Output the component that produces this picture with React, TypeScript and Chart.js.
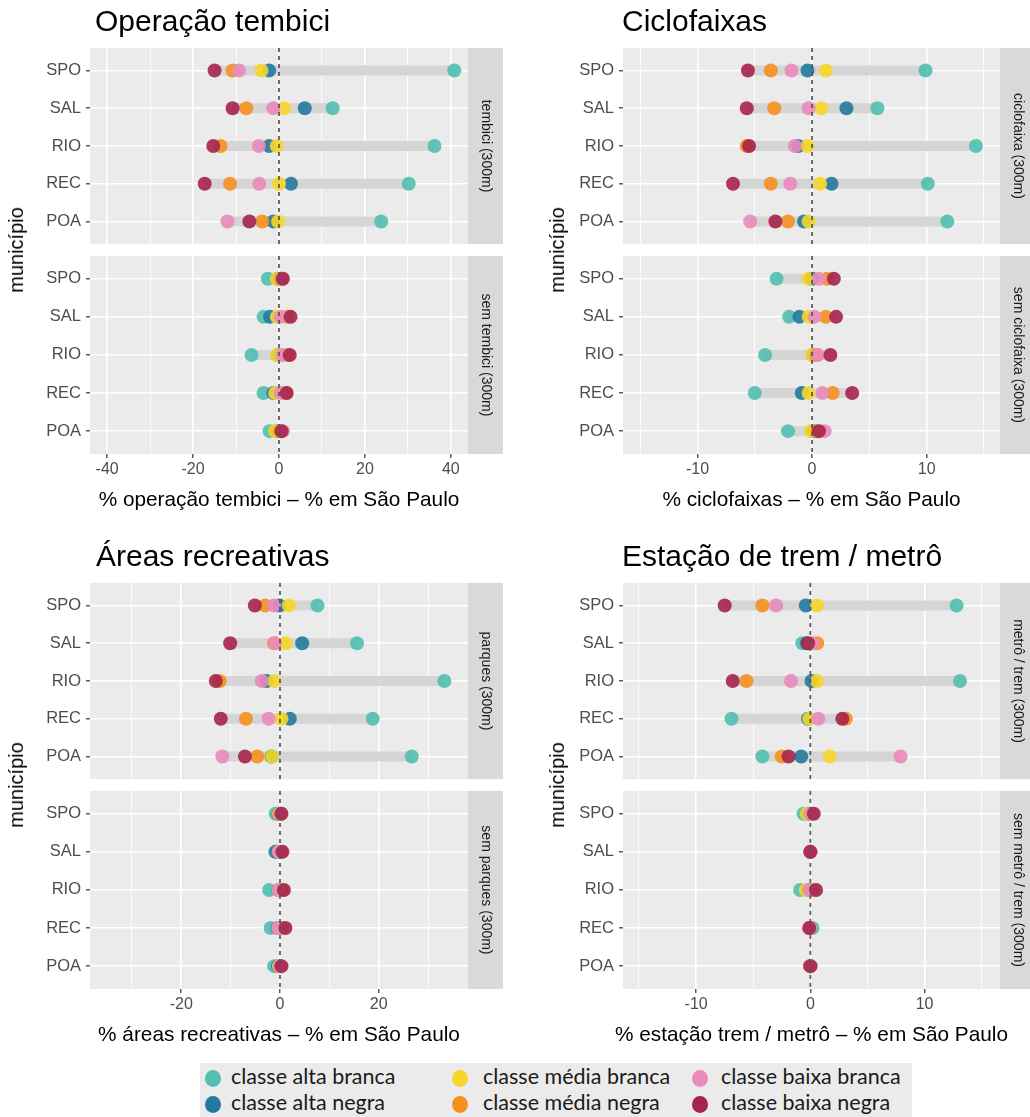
import React, { useEffect, useRef } from "react";
import { Chart, registerables } from "chart.js";

Chart.register(...registerables);

// ---------- data ----------
const cities = ["SPO", "SAL", "RIO", "REC", "POA"];
const classes = [
  "classe alta branca",
  "classe alta negra",
  "classe média branca",
  "classe média negra",
  "classe baixa branca",
  "classe baixa negra",
];
const classColors = ["#52BFB1", "#237A9C", "#F6D62A", "#F5901F", "#E98BBB", "#A6244C"];

// each row: one class (order as in `classes`), values for SPO, SAL, RIO, REC, POA
const tembici300 = [
  [40.8, 12.5, 36.2, 30.2, 23.8],
  [-2.3, 6.0, -2.3, 2.8, -1.3],
  [-4.1, 1.2, -0.5, 0.0, -0.2],
  [-10.8, -7.6, -13.6, -11.4, -3.9],
  [-9.3, -1.3, -4.7, -4.6, -12.0],
  [-15.0, -10.8, -15.3, -17.3, -6.9],
];
const semTembici300 = [
  [-2.6, -3.6, -6.4, -3.6, -2.2],
  [-0.3, -2.1, -0.3, -1.3, -0.5],
  [-0.5, -0.5, -0.5, -0.9, -0.9],
  [0.5, 1.9, 2.0, 1.5, 0.3],
  [0.7, 0.4, 0.8, 0.4, 0.9],
  [0.9, 2.7, 2.5, 1.8, 0.6],
];
const ciclofaixa300 = [
  [9.9, 5.7, 14.3, 10.1, 11.8],
  [-0.4, 3.0, -1.2, 1.7, -0.7],
  [1.2, 0.8, -0.4, 0.7, -0.3],
  [-3.6, -3.3, -5.7, -3.6, -2.1],
  [-1.8, -0.3, -1.5, -1.9, -5.4],
  [-5.6, -5.7, -5.5, -6.9, -3.2],
];
const semCiclofaixa300 = [
  [-3.1, -2.0, -4.1, -5.0, -2.1],
  [0.0, -1.1, 0.1, -0.9, 0.1],
  [-0.3, -0.3, 0.0, -0.3, -0.1],
  [1.3, 1.2, 0.4, 1.8, 0.5],
  [0.6, 0.2, 0.5, 0.9, 1.1],
  [1.9, 2.1, 1.6, 3.5, 0.6],
];
const parques300 = [
  [7.6, 15.6, 33.3, 18.8, 26.7],
  [-0.1, 4.5, -2.7, 2.0, -1.7],
  [1.8, 1.1, -1.2, 0.3, -1.6],
  [-3.0, -1.2, -12.2, -6.9, -4.6],
  [-1.2, -1.0, -3.7, -2.3, -11.7],
  [-5.1, -10.1, -13.0, -12.0, -7.1],
];
const semParques300 = [
  [-0.9, -1.0, -2.2, -1.9, -1.2],
  [-0.3, -0.8, -0.3, -0.5, -0.4],
  [-0.2, -0.2, -0.2, -0.2, -0.2],
  [0.1, 0.2, 0.3, 0.4, 0.1],
  [0.0, -0.3, -0.3, -0.4, 0.0],
  [0.3, 0.5, 0.8, 1.1, 0.3],
];
const metro300 = [
  [12.8, -0.7, 13.1, -6.9, -4.2],
  [-0.4, -0.3, 0.1, -0.2, -0.8],
  [0.6, 0.0, 0.6, -0.1, 1.7],
  [-4.2, 0.6, -5.6, 3.1, -2.5],
  [-3.0, 0.2, -1.7, 0.7, 7.9],
  [-7.5, -0.2, -6.8, 2.8, -1.9],
];
const semMetro300 = [
  [-0.6, 0.0, -0.9, 0.2, 0.0],
  [-0.2, 0.0, -0.2, 0.0, 0.0],
  [-0.3, 0.0, -0.4, -0.1, 0.0],
  [0.1, 0.0, 0.2, 0.0, 0.0],
  [0.0, 0.0, -0.1, 0.0, 0.0],
  [0.3, 0.0, 0.5, -0.1, 0.0],
];

// ---------- layout / style ----------
const FONT = "'Liberation Sans', Arial, Helvetica, sans-serif";
const PAD = 14;

function rgba(hex: string, a: number) {
  const n = parseInt(hex.slice(1), 16);
  return `rgba(${(n >> 16) & 255},${(n >> 8) & 255},${n & 255},${a})`;
}

const facetDeco = {
  id: "facetDeco",
  beforeDraw(chart: any) {
    const { ctx, chartArea: a } = chart;
    ctx.save();
    ctx.fillStyle = "#ebebeb";
    ctx.fillRect(a.left, a.top, a.right - a.left, a.bottom - a.top);
    ctx.restore();
  },
  afterDraw(chart: any, _args: any, opts: any) {
    const { ctx, chartArea: a } = chart;
    ctx.save();
    ctx.fillStyle = "#d9d9d9";
    ctx.fillRect(a.right, a.top, opts.stripWidth, a.bottom - a.top);
    ctx.translate(a.right + opts.stripWidth / 2, (a.top + a.bottom) / 2);
    ctx.rotate(Math.PI / 2);
    ctx.fillStyle = "#1a1a1a";
    ctx.font = `14px ${FONT}`;
    ctx.textAlign = "center";
    ctx.textBaseline = "middle";
    ctx.fillText(opts.strip, 0, 0);
    ctx.restore();
  },
};

type FacetProps = {
  left: number;
  plotTop: number;
  plotBottom: number;
  width: number;
  plotLeft: number;
  plotRight: number;
  xMin: number;
  xMax: number;
  major: number;
  minor: number;
  values: number[][];
  strip: string;
  showX: boolean;
};

function Facet(p: FacetProps) {
  const ref = useRef<HTMLCanvasElement>(null);
  const top = p.plotTop - PAD;
  const height = p.plotBottom - p.plotTop + PAD + (p.showX ? 30 : PAD);
  useEffect(() => {
    if (!ref.current) return;
    const isMajor = (v: number) => Math.abs(v / p.major - Math.round(v / p.major)) < 1e-6;
    const datasets: any[] = [];
    cities.forEach((_c, i) => {
      const vals = p.values.map((s) => s[i]);
      datasets.push({
        data: [
          { x: Math.min(...vals), y: i },
          { x: Math.max(...vals), y: i },
        ],
        showLine: true,
        borderColor: "#d5d5d5",
        borderWidth: 10,
        borderCapStyle: "butt",
        pointRadius: 0,
        order: 20,
      });
    });
    p.values.forEach((s, k) => {
      datasets.push({
        label: classes[k],
        data: s.map((v, i) => ({ x: v, y: i })),
        showLine: false,
        pointRadius: 7,
        pointBorderWidth: 0,
        pointBackgroundColor: rgba(classColors[k], 0.9),
        backgroundColor: rgba(classColors[k], 0.9),
        order: 10 - k,
      });
    });
    datasets.push({
      data: [
        { x: 0, y: -0.6 },
        { x: 0, y: 4.6 },
      ],
      showLine: true,
      borderColor: "#555555",
      borderWidth: 1.7,
      borderDash: [4, 4],
      pointRadius: 0,
      order: 0,
    });
    const chart = new Chart(ref.current, {
      type: "scatter",
      data: { datasets },
      plugins: [facetDeco],
      options: {
        animation: false,
        responsive: false,
        devicePixelRatio: 1,
        events: [],
        layout: { padding: { left: 0, top: PAD, right: p.width - p.plotRight, bottom: p.showX ? 0 : PAD } },
        plugins: {
          legend: { display: false },
          tooltip: { enabled: false },
          facetDeco: { strip: p.strip, stripWidth: 35 },
        } as any,
        scales: {
          x: {
            type: "linear",
            min: p.xMin,
            max: p.xMax,
            afterFit: (s: any) => {
              s.height = p.showX ? 30 : 0;
            },
            border: { display: false },
            grid: {
              color: "#ffffff",
              lineWidth: (ctx: any) => (ctx.tick && isMajor(ctx.tick.value) ? 1.6 : 0.8),
              drawTicks: p.showX,
              tickLength: 4,
              tickWidth: 1.2,
              tickColor: (ctx: any) => (ctx.tick && isMajor(ctx.tick.value) ? "#333333" : "rgba(0,0,0,0)"),
            },
            ticks: {
              display: p.showX,
              stepSize: p.minor,
              includeBounds: false,
              autoSkip: false,
              maxRotation: 0,
              padding: 2,
              color: "#4d4d4d",
              font: { family: FONT, size: 16 },
              callback: (v: any) => (isMajor(Number(v)) ? String(v) : ""),
            },
          } as any,
          y: {
            type: "linear",
            min: -0.6,
            max: 4.6,
            reverse: true,
            afterFit: (s: any) => {
              s.width = p.plotLeft;
            },
            border: { display: false },
            grid: { color: "#ffffff", lineWidth: 1.6, tickLength: 4, tickWidth: 1.2, tickColor: "#333333" },
            ticks: {
              stepSize: 1,
              includeBounds: false,
              autoSkip: false,
              padding: 5,
              color: "#4d4d4d",
              font: { family: FONT, size: 16.5 },
              callback: (v: any) => cities[Math.round(Number(v))] ?? "",
            },
          } as any,
        },
      },
    });
    return () => chart.destroy();
  }, []);
  return (
    <canvas
      ref={ref}
      width={p.width}
      height={height}
      style={{ position: "absolute", left: p.left, top, width: p.width, height }}
    />
  );
}

function Txt(props: {
  x: number;
  y: number;
  text: string;
  size: number;
  anchor?: "start" | "middle" | "end";
  rotate?: number;
  color?: string;
  family?: string;
}) {
  const tx = props.anchor === "start" ? "0" : props.anchor === "end" ? "-100%" : "-50%";
  return (
    <div
      style={{
        position: "absolute",
        left: props.x,
        top: props.y,
        transform: `translate(${tx}, -50%) rotate(${props.rotate || 0}deg)`,
        transformOrigin: "center center",
        fontSize: props.size,
        lineHeight: 1,
        whiteSpace: "nowrap",
        color: props.color || "#000",
        fontFamily: props.family || FONT,
      }}
    >
      {props.text}
    </div>
  );
}

const panels = [
  {
    title: "Operação tembici",
    xTitle: "% operação tembici – % em São Paulo",
    strips: ["tembici (300m)", "sem tembici (300m)"],
    values: [tembici300, semTembici300],
    xMin: -44, xMax: 44, major: 20, minor: 10,
    left: 0, width: 505, plotLeft: 90, plotRight: 468, dy: 0, titleX: 95, yTitleX: 16,
  },
  {
    title: "Ciclofaixas",
    xTitle: "% ciclofaixas – % em São Paulo",
    strips: ["ciclofaixa (300m)", "sem ciclofaixa (300m)"],
    values: [ciclofaixa300, semCiclofaixa300],
    xMin: -16.5, xMax: 16.4, major: 10, minor: 5,
    left: 530, width: 500, plotLeft: 93, plotRight: 470, dy: 0, titleX: 622, yTitleX: 557,
  },
  {
    title: "Áreas recreativas",
    xTitle: "% áreas recreativas – % em São Paulo",
    strips: ["parques (300m)", "sem parques (300m)"],
    values: [parques300, semParques300],
    xMin: -38.5, xMax: 38.1, major: 20, minor: 10,
    left: 0, width: 505, plotLeft: 90, plotRight: 468, dy: 535, titleX: 96, yTitleX: 16,
  },
  {
    title: "Estação de trem / metrô",
    xTitle: "% estação trem / metrô – % em São Paulo",
    strips: ["metrô / trem (300m)", "sem metrô / trem (300m)"],
    values: [metro300, semMetro300],
    xMin: -16.4, xMax: 16.6, major: 10, minor: 5,
    left: 530, width: 500, plotLeft: 93, plotRight: 470, dy: 535, titleX: 622, yTitleX: 557,
  },
];

const legendCols = [
  [0, 1],
  [2, 3],
  [4, 5],
];
const legendDotX = [213, 460, 700];
const legendTextX = [231, 483, 721];

export default function App() {
  useEffect(() => {
    document.body.style.margin = "0";
  }, []);
  return (
    <div
      style={{
        position: "absolute",
        left: 0,
        top: 0,
        width: 1030,
        height: 1117,
        overflow: "hidden",
        background: "#ffffff",
        fontFamily: FONT,
      }}
    >
      {panels.map((pn, pi) => {
        const facetTops = [47 + pn.dy, 255 + pn.dy];
        const facetBottoms = [245 + pn.dy, 454 + pn.dy];
        const plotCenterX = pn.left + (pn.plotLeft + pn.plotRight) / 2;
        return (
          <React.Fragment key={pi}>
            {[0, 1].map((f) => (
              <Facet
                key={f}
                left={pn.left}
                plotTop={facetTops[f]}
                plotBottom={facetBottoms[f]}
                width={pn.width}
                plotLeft={pn.plotLeft}
                plotRight={pn.plotRight}
                xMin={pn.xMin}
                xMax={pn.xMax}
                major={pn.major}
                minor={pn.minor}
                values={pn.values[f]}
                strip={pn.strips[f]}
                showX={f === 1}
              />
            ))}
            <Txt x={pn.titleX} y={21 + pn.dy} text={pn.title} size={30} anchor="start" />
            <Txt x={plotCenterX} y={499 + pn.dy} text={pn.xTitle} size={20.8} />
            <Txt x={pn.yTitleX} y={250 + pn.dy} text="município" size={20} rotate={-90} />
          </React.Fragment>
        );
      })}
      <div
        style={{
          position: "absolute",
          left: 200,
          top: 1063,
          width: 712,
          height: 60,
          background: "#ebebeb",
        }}
      />
      {legendCols.map((col, ci) =>
        col.map((k, ri) => (
          <React.Fragment key={`${ci}-${ri}`}>
            <div
              style={{
                position: "absolute",
                left: legendDotX[ci] - 8,
                top: 1078 + ri * 26 - 8.5,
                width: 16,
                height: 17,
                borderRadius: "50%",
                background: classColors[k],
              }}
            />
            <Txt
              x={legendTextX[ci]}
              y={1077 + ri * 26}
              text={classes[k]}
              size={21.5}
              anchor="start"
              color="#1a1a1a"
              family="Lato, 'Open Sans', sans-serif"
            />
          </React.Fragment>
        ))
      )}
    </div>
  );
}
